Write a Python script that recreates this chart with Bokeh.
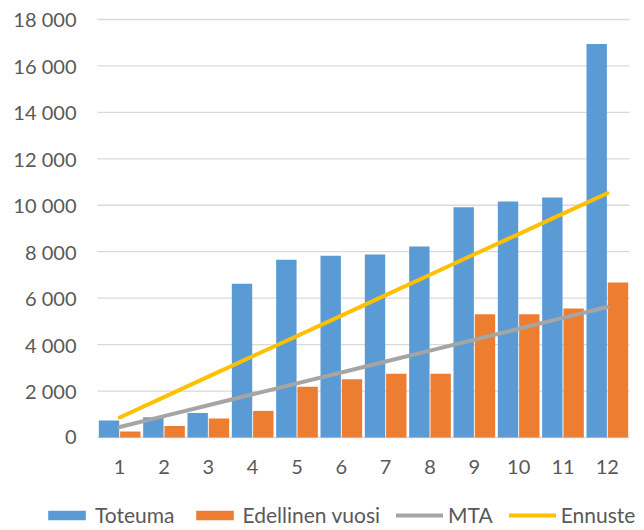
from bokeh.core.properties import value
from bokeh.embed import file_html
from bokeh.models import Legend, LegendItem, Range1d
from bokeh.plotting import figure
from bokeh.resources import INLINE
from bokeh.transform import dodge

months = [1, 2, 3, 4, 5, 6, 7, 8, 9, 10, 11, 12]
month_labels = ["1", "2", "3", "4", "5", "6", "7", "8", "9", "10", "11", "12"]
toteuma = [730, 870, 1060, 6620, 7650, 7830, 7880, 8230, 9920, 10160, 10340, 16950]
edellinen = [260, 490, 815, 1145, 2190, 2505, 2750, 2750, 5310, 5310, 5550, 6670]
mta = [450, 920, 1390, 1860, 2330, 2800, 3270, 3740, 4210, 4680, 5150, 5620]
ennuste = [860, 1740, 2620, 3500, 4370, 5250, 6130, 7010, 7890, 8760, 9640, 10520]

y_ticks = [0, 2000, 4000, 6000, 8000, 10000, 12000, 14000, 16000, 18000]
y_tick_labels = ["0", "2 000", "4 000", "6 000", "8 000", "10 000",
                 "12 000", "14 000", "16 000", "18 000"]

FONT = "Lato"
TEXT = "#595959"
GRID = "#D9D9D9"
BLUE, ORANGE, GRAY, YELLOW = "#5B9BD5", "#ED7D31", "#A5A5A5", "#FFC000"

# one frame covering the whole canvas, so the legend below the bars is not clipped;
# ranges are stretched so that months 0.5..12.5 and values 0..18000 sit where the
# reference plot area is, and the axis labels are drawn as text in the margins
p = figure(width=636, height=528, output_backend="svg", toolbar_location=None,
           x_range=Range1d(-1.688, 12.658), y_range=Range1d(-3919, 18818),
           x_axis_location=None, y_axis_location=None,
           min_border=0, outline_line_color=None)
p.grid.visible = False

src = dict(x=months, toteuma=toteuma, edellinen=edellinen, mta=mta, ennuste=ennuste)

p.segment(x0=0.5, x1=12.5, y0=y_ticks, y1=y_ticks, line_color=GRID, line_width=1.3)

b1 = p.vbar(x=dodge("x", -0.24, range=p.x_range), top="toteuma", width=0.46,
            source=src, fill_color=BLUE, line_color=None)
b2 = p.vbar(x=dodge("x", 0.24, range=p.x_range), top="edellinen", width=0.46,
            source=src, fill_color=ORANGE, line_color=None)
l1 = p.line("x", "mta", source=src, line_color=GRAY, line_width=4, line_cap="round")
l2 = p.line("x", "ennuste", source=src, line_color=YELLOW, line_width=4, line_cap="round")

# tick labels
p.text(x=0.026, y=y_ticks, text=y_tick_labels, text_font=value(FONT),
       text_font_size="20px", text_color=TEXT, text_align="right",
       text_baseline="middle")
p.text(x=months, y=-1270, text=month_labels, text_font=value(FONT),
       text_font_size="20px", text_color=TEXT, text_align="center",
       text_baseline="middle")

legend = Legend(items=[LegendItem(label="Toteuma", renderers=[b1]),
                       LegendItem(label="Edellinen vuosi", renderers=[b2]),
                       LegendItem(label="MTA", renderers=[l1]),
                       LegendItem(label="Ennuste", renderers=[l2])],
                orientation="horizontal", location=(43, 1),
                glyph_width=47, glyph_height=12, label_standoff=5, spacing=16,
                label_text_font=FONT, label_text_font_size="21px",
                label_text_color=TEXT, border_line_color=None,
                background_fill_alpha=0, padding=0, margin=0)
p.add_layout(legend)

open("out.html", "w").write(file_html(p, INLINE))
